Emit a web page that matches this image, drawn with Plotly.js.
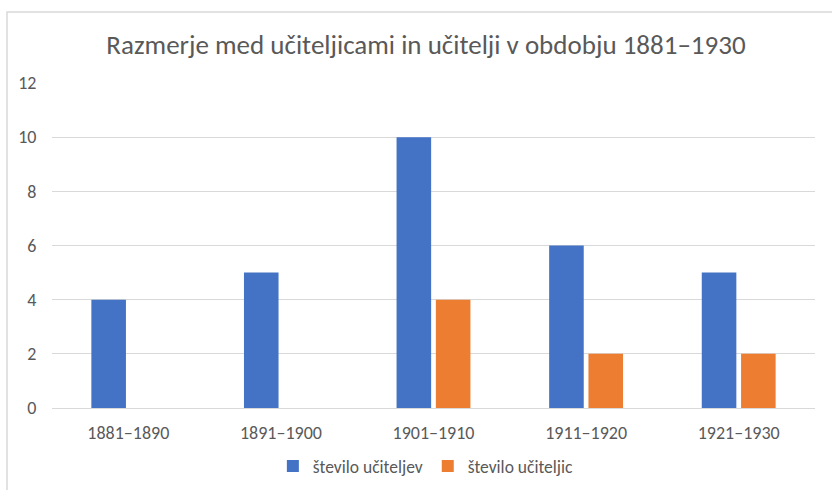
<!DOCTYPE html>
<html>
<head>
<meta charset="utf-8">
<script src="https://cdn.plot.ly/plotly-3.0.1.min.js"></script>
<style>html,body{margin:0;padding:0;background:#fff;}</style>
</head>
<body>
<div id="chart" style="width:832px;height:490px;"></div>
<script>
const categories = ["1881–1890", "1891–1900", "1901–1910", "1911–1920", "1921–1930"];
const teachersMale = [4, 5, 10, 6, 5];
const teachersFemale = [0, 0, 4, 2, 2];
const seriesNames = ["število učiteljev", "število učiteljic"];
const yTicks = [0, 2, 4, 6, 8, 10, 12];

const fontFamily = "Calibri, Carlito, 'Liberation Sans', Arial, sans-serif";
const textColor = "#595959";

const traces = [
  {type: "bar", name: seriesNames[0], x: categories, y: teachersMale,
   marker: {color: "#4472C4"}, hoverinfo: "skip"},
  {type: "bar", name: seriesNames[1], x: categories, y: teachersFemale,
   marker: {color: "#ED7D31"}, hoverinfo: "skip"}
];

const layout = {
  width: 832, height: 490,
  margin: {l: 52, r: 17, t: 83, b: 82, autoexpand: false},
  paper_bgcolor: "#ffffff", plot_bgcolor: "#ffffff",
  font: {family: fontFamily, color: textColor, size: 18},
  title: {text: "Razmerje med učiteljicami in učitelji v obdobju 1881–1930",
          font: {family: fontFamily, size: 27, color: textColor},
          xref: "container", x: 0.512, xanchor: "center",
          yref: "container", y: 1 - 45/490, yanchor: "middle"},
  barmode: "group", bargap: 0.485, bargroupgap: 0.12,
  xaxis: {type: "category", showgrid: false, showline: false, zeroline: false,
          ticks: "outside", ticklen: 8, tickcolor: "rgba(0,0,0,0)",
          tickfont: {size: 18, color: textColor}},
  yaxis: {range: [0, 12], tickvals: yTicks, showgrid: true, gridcolor: "#d9d9d9",
          gridwidth: 1, zeroline: true, zerolinecolor: "#d9d9d9", zerolinewidth: 1,
          showline: false, ticks: "outside", ticklen: 11, tickcolor: "rgba(0,0,0,0)",
          tickfont: {size: 18, color: textColor}},
  legend: {orientation: "h", x: 0.49, xanchor: "center",
           yref: "container", y: 1 - 466/490, yanchor: "middle",
           font: {size: 17.5, color: textColor}, traceorder: "normal"},
  showlegend: true,
  shapes: [{type: "rect", xref: "paper", yref: "paper",
            x0: (7-52)/763, x1: 1.2, y0: -0.6, y1: (408-12)/325,
            line: {color: "#d9d9d9", width: 1.5}, fillcolor: "rgba(0,0,0,0)", layer: "below"}]
};

Plotly.newPlot("chart", traces, layout, {displayModeBar: false, staticPlot: true});
</script>
</body>
</html>
